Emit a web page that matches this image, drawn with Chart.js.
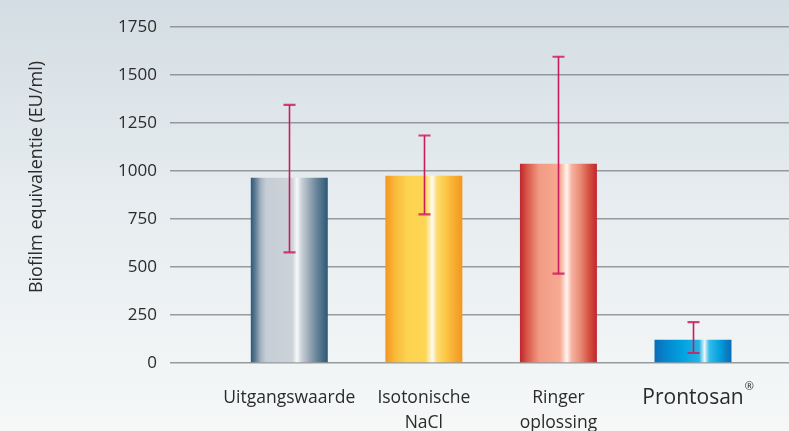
<!DOCTYPE html>
<html>
<head>
<meta charset="utf-8">
<script src="https://cdn.jsdelivr.net/npm/chart.js@4"></script>
<style>
  html, body { margin: 0; padding: 0; }
  body {
    width: 789px; height: 431px; overflow: hidden;
    background: linear-gradient(to bottom, #d3dde3 0%, #e6ecef 45%, #f6f8f8 100%);
  }
  #wrap { position: relative; width: 789px; height: 431px; }
</style>
</head>
<body>
<div id="wrap"><canvas id="chart"></canvas></div>
<script>
// ---- data ----
const categories = [['Uitgangswaarde'], ['Isotonische', 'NaCl'], ['Ringer', 'oplossing'], ['Prontosan']];
const positions = [1, 2, 3, 4];
const biofilmValues = [965, 975, 1038, 121];
const errorHigh = [1344, 1185, 1595, 213];
const errorLow = [576, 774, 465, 52];
const yTicks = [0, 250, 500, 750, 1000, 1250, 1500, 1750];
const yTitle = 'Biofilm equivalentie (EU/ml)';
const trademark = '\u00AE';

// ---- styles ----
const FONT = "'Open Sans', sans-serif";
const TEXT = '#2b2b2b';
const barStops = [
  [[0, '#2d5876'], [0.06, '#5f7e95'], [0.13, '#a5b3c1'], [0.2, '#c6cdd5'], [0.54, '#ccd3da'], [0.6, '#f8fafb'], [0.66, '#c9d0d7'], [0.74, '#a3b0bd'], [0.85, '#6a869c'], [1, '#2d5876']],
  [[0, '#f4961f'], [0.12, '#f9b838'], [0.28, '#fdd24f'], [0.52, '#fed653'], [0.61, '#fffbf0'], [0.67, '#fddb72'], [0.78, '#fcc845'], [0.9, '#f7ab30'], [1, '#f4961f']],
  [[0, '#c1252c'], [0.1, '#d9594a'], [0.25, '#f29a84'], [0.52, '#f7aa92'], [0.61, '#fff4ef'], [0.67, '#f6b3a0'], [0.78, '#ea8c76'], [0.9, '#d4503f'], [1, '#c1252c']],
  [[0, '#0a6db6'], [0.15, '#0586cf'], [0.35, '#00a0df'], [0.58, '#22b3e6'], [0.65, '#eaf7fd'], [0.71, '#36bce9'], [0.85, '#00a0dd'], [0.94, '#0a7cc3'], [1, '#0a6db6']]
];
const BAR_PCT = 0.572;

Chart.defaults.font.family = FONT;
Chart.defaults.color = TEXT;

function barGradient(c) {
  const chart = c.chart;
  const i = c.dataIndex;
  if (!chart.chartArea || i === undefined) return barStops[0][0][1];
  const xs = chart.scales.x;
  const cx = xs.getPixelForValue(positions[i]);
  const half = (xs.getPixelForValue(2) - xs.getPixelForValue(1)) * BAR_PCT / 2;
  const g = chart.ctx.createLinearGradient(cx - half, 0, cx + half, 0);
  barStops[i].forEach(s => g.addColorStop(s[0], s[1]));
  return g;
}

const errorBars = {
  id: 'errorBars',
  afterDatasetsDraw(chart) {
    const { ctx, scales: { x, y } } = chart;
    ctx.save();
    positions.forEach((p, i) => {
      const px = Math.round(x.getPixelForValue(p)) + 0.5;
      const top = y.getPixelForValue(errorHigh[i]);
      const bot = y.getPixelForValue(errorLow[i]);
      ctx.strokeStyle = '#c81c5c';
      ctx.lineWidth = 1.6;
      ctx.beginPath();
      ctx.moveTo(px, top);
      ctx.lineTo(px, bot);
      ctx.stroke();
      ctx.strokeStyle = 'rgba(204,32,96,0.85)';
      ctx.lineWidth = 2.2;
      ctx.beginPath();
      ctx.moveTo(px - 6, top); ctx.lineTo(px + 6, top);
      ctx.moveTo(px - 6, bot); ctx.lineTo(px + 6, bot);
      ctx.stroke();
    });
    ctx.restore();
  }
};

const extraText = {
  id: 'extraText',
  afterDraw(chart) {
    const { ctx, scales: { x, y } } = chart;
    ctx.save();
    // y axis title
    ctx.fillStyle = TEXT;
    ctx.font = '18px ' + FONT;
    ctx.textAlign = 'center';
    ctx.textBaseline = 'middle';
    ctx.translate(37, (y.top + y.bottom) / 2 - 18);
    ctx.rotate(-Math.PI / 2);
    ctx.fillText(yTitle, 0, 0);
    ctx.restore();

    // registered mark next to the last label
    ctx.save();
    ctx.font = '21px ' + FONT;
    const w = ctx.measureText(categories[3][0]).width;
    ctx.font = '11px ' + FONT;
    ctx.fillStyle = TEXT;
    ctx.textAlign = 'left';
    ctx.textBaseline = 'middle';
    ctx.fillText(trademark, x.getPixelForValue(positions[3]) + w / 2 + 1, x.top + 24);
    ctx.restore();
  }
};

new Chart(document.getElementById('chart'), {
  type: 'bar',
  data: {
    datasets: [{
      data: positions.map((p, i) => ({ x: p, y: biofilmValues[i] })),
      backgroundColor: barGradient,
      borderWidth: 0,
      barPercentage: BAR_PCT,
      categoryPercentage: 1
    }]
  },
  options: {
    responsive: true,
    maintainAspectRatio: false,
    animation: false,
    layout: { padding: { top: 27, right: 0, left: 0, bottom: 0 } },
    plugins: { legend: { display: false }, tooltip: { enabled: false } },
    scales: {
      x: {
        type: 'linear',
        offset: false,
        min: 0.1135,
        max: 4.7135,
        grid: { display: false },
        border: { display: false },
        afterBuildTicks: s => { s.ticks = positions.map(v => ({ value: v })); },
        afterFit: s => { s.height = 68; },
        ticks: {
          autoSkip: false,
          maxRotation: 0,
          padding: 15,
          color: TEXT,
          font: c => c.index === 3
            ? { family: FONT, size: 21, lineHeight: '25px' }
            : { family: FONT, size: 17.5, lineHeight: '25px' },
          callback: (v, i) => categories[i]
        }
      },
      y: {
        min: 0,
        max: 1750,
        afterBuildTicks: s => { s.ticks = yTicks.map(v => ({ value: v })); },
        afterFit: s => { s.width = 170; },
        grid: { color: 'rgba(128,133,137,0.8)', lineWidth: 1.5, drawTicks: false },
        border: { display: false },
        ticks: { padding: 13, color: TEXT, font: { family: FONT, size: 17 }, callback: v => String(v) }
      }
    }
  },
  plugins: [errorBars, extraText]
});
</script>
</body>
</html>
